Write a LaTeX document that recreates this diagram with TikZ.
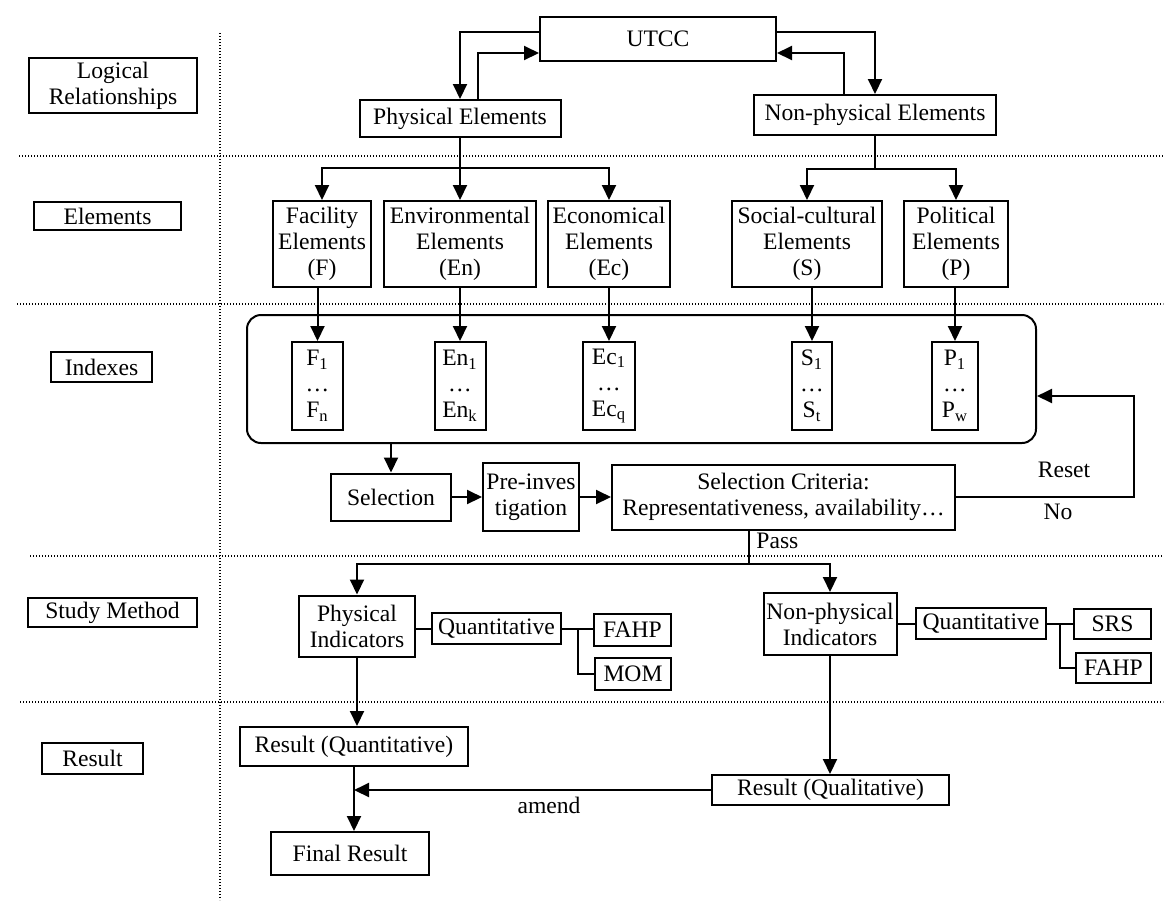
\documentclass[tikz,border=0pt]{standalone}
\usepackage{fontspec}
\setmainfont{Liberation Serif}
\usetikzlibrary{arrows.meta,calc,positioning}

\begin{document}
\begin{tikzpicture}[x=0.5pt, y=-0.5pt,
    every node/.style={font=\fontsize{11.8}{13}\selectfont, inner sep=0pt, align=center},
    box/.style={draw, line width=1pt},
    sidebox/.style={draw, line width=1pt},
    link/.style={line width=1pt},
    arr/.style={line width=1pt, -{Triangle[length=7.5pt, width=7pt]}},
    sep/.style={line width=0.6pt, dash pattern=on 0.6pt off 0.9pt}
]
\useasboundingbox (0,0) rectangle (1166,901);

% Separators
\draw[sep] (220,33) -- (220,900);
\foreach \y/\x in {156/19, 304/17, 556/30, 702/20}
    \draw[sep] (\x,\y) -- (1163,\y);

% Row labels
\node[sidebox, minimum width=84pt, minimum height=27.5pt] (logic) at (113,85.5) {Logical\\Relationships};
\node[sidebox, minimum width=73.5pt, minimum height=14pt] (elem) at (107.5,216) {Elements};
\node[sidebox, minimum width=50.5pt, minimum height=15pt] (idx) at (101.5,367) {Indexes};
\node[sidebox, minimum width=84.5pt, minimum height=14.5pt] (study) at (112.5,612.5) {Study Method};
\node[sidebox, minimum width=50.5pt, minimum height=15.5pt] (res) at (92.5,758.5) {Result};

% Logical relationships
\node[box, minimum width=118pt, minimum height=22pt] (utcc) at (658,39) {UTCC};
\node[box, minimum width=100.5pt, minimum height=18.5pt] (phys) at (460,118.5) {Physical Elements};
\node[box, minimum width=121pt, minimum height=20pt] (nonphys) at (875,115) {Non-physical Elements};

\draw[arr] ($(utcc.west)+(0,-7)$) -| (phys.north);
\draw[arr] ($(phys.north)+(18,0)$) |- ($(utcc.west)+(0,14)$);
\draw[arr] ($(utcc.east)+(0,-7)$) -| (nonphys.north);
\draw[arr] ($(nonphys.north)+(-31,0)$) |- ($(utcc.east)+(0,14)$);

% Elements
\node[box, minimum width=49pt, minimum height=43pt] (fac) at (322,244) {Facility\\Elements\\(F)};
\node[box, minimum width=76pt, minimum height=43pt] (env) at (460,244) {Environmental\\Elements\\(En)};
\node[box, minimum width=61pt, minimum height=43pt] (eco) at (609,244) {Economical\\Elements\\(Ec)};
\node[box, minimum width=75pt, minimum height=43pt] (soc) at (807,244) {Social-cultural\\Elements\\(S)};
\node[box, minimum width=52pt, minimum height=43pt] (pol) at (956,244) {Political\\Elements\\(P)};

\coordinate (pjoin) at (460,168);
\coordinate (njoin) at (875,169);
\draw[link] (phys.south) -- (pjoin);
\foreach \n in {fac,env,eco}
    \draw[arr] (pjoin) -| (\n.north);
\draw[link] (nonphys.south) -- (njoin);
\foreach \n in {soc,pol}
    \draw[arr] (njoin) -| (\n.north);

% Indexes
\node[draw, line width=1pt, rounded corners=7pt, minimum width=394.5pt, minimum height=64pt] (frame) at (641.5,379) {};
\node[box, minimum width=25.5pt, minimum height=44pt] (f) at (317.5,386) {F\textsubscript{1}\\…\\F\textsubscript{n}};
\node[box, minimum width=25.5pt, minimum height=44pt] (en) at (460,386) {En\textsubscript{1}\\…\\En\textsubscript{k}};
\node[box, minimum width=26pt, minimum height=44pt] (ec) at (609,386) {Ec\textsubscript{1}\\…\\Ec\textsubscript{q}};
\node[box, minimum width=20pt, minimum height=44pt] (s) at (812,386) {S\textsubscript{1}\\…\\S\textsubscript{t}};
\node[box, minimum width=23pt, minimum height=44pt] (p) at (955,386) {P\textsubscript{1}\\…\\P\textsubscript{w}};

\draw[arr] (fac.south -| f.north) -- (f.north);
\draw[arr] (env.south) -- (en.north);
\draw[arr] (eco.south) -- (ec.north);
\draw[arr] (soc.south -| s.north) -- (s.north);
\draw[arr] (pol.south -| p.north) -- (p.north);

% Selection
\node[box, minimum width=60pt, minimum height=23.5pt] (sel) at (391,497) {Selection};
\node[box, minimum width=48pt, minimum height=34pt] (pre) at (531,497) {Pre-inves\\tigation};
\node[box, minimum width=171.5pt, minimum height=32.5pt] (crit) at (783.5,497) {Selection Criteria:\\Representativeness, availability…};

\draw[arr] (frame.south -| sel.north) -- (sel.north);
\draw[arr] (sel.east) -- (pre.west);
\draw[arr] (pre.east) -- (crit.west);

\coordinate (rst) at (1134,396);
\draw[arr] (crit.east) -| (rst) -- (frame.east |- rst);
\node (reset) at (1064,470) {Reset};
\node (no) at (1058,512) {No};

% Study method
\node[box, minimum width=58pt, minimum height=30.5pt] (phind) at (357,626) {Physical\\Indicators};
\node[box, minimum width=64.5pt, minimum height=15.5pt] (q1) at (496.5,628.5) {Quantitative};
\node[box, minimum width=38.5pt, minimum height=16pt] (fahp1) at (632.5,630) {FAHP};
\node[box, minimum width=38pt, minimum height=16pt] (mom) at (633,674) {MOM};
\node[box, minimum width=66.5pt, minimum height=31pt] (npind) at (830,624) {Non-physical\\Indicators};
\node[box, minimum width=65pt, minimum height=15.5pt] (q2) at (981,623.5) {Quantitative};
\node[box, minimum width=38.5pt, minimum height=15pt] (srs) at (1112.5,624) {SRS};
\node[box, minimum width=37.5pt, minimum height=15pt] (fahp2) at (1113.5,668) {FAHP};

\coordinate (pass) at (749,564);
\draw[link] (crit.south -| pass) -- (pass);
\draw[arr] (pass) -| (phind.north);
\draw[arr] (pass) -| (npind.north);
\node[anchor=west] (passlbl) at (756,541) {Pass};

\draw[link] (phind.east |- q1) -- (q1.west);
\draw[link] (q1.east) -- (q1.east -| fahp1.west);
\draw[link] ($(q1.east)!0.5!(q1.east -| fahp1.west)$) |- (mom.west);
\draw[link] (npind.east |- q2) -- (q2.west);
\draw[link] (q2.east) -- (q2.east -| srs.west);
\draw[link] ($(q2.east)!0.5!(q2.east -| srs.west)$) |- (fahp2.west);

% Result
\node[box, minimum width=114pt, minimum height=19.5pt] (rquant) at (354,746.5) {Result (Quantitative)};
\node[box, minimum width=118.5pt, minimum height=15pt] (rqual) at (830.5,790) {Result (Qualitative)};
\node[box, minimum width=79pt, minimum height=21.5pt] (final) at (350,853.5) {Final Result};

\draw[arr] (phind.south) -- (phind.south |- rquant.north);
\draw[arr] (npind.south) -- (npind.south |- rqual.north);
\draw[arr] (rquant.south) -- (rquant.south |- final.north);
\draw[arr] (rqual.west) -- (rqual.west -| rquant.south);
\node (amendlbl) at (549,805) {amend};

\end{tikzpicture}
\end{document}
